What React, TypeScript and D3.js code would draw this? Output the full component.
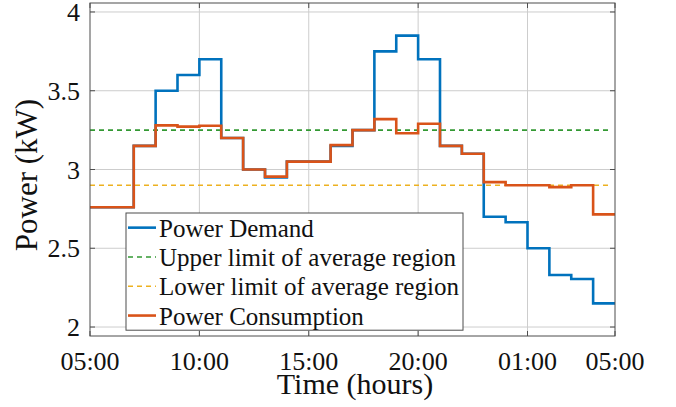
import * as d3 from 'd3';
import { useEffect, useRef } from 'react';

// hour of day at the start of each 1h step (25 = 01:00 next day)
const hours = [5, 6, 7, 8, 9, 10, 11, 12, 13, 14, 15, 16, 17, 18, 19, 20, 21, 22, 23, 24, 25, 26, 27, 28];
const demand = [2.76, 2.76, 3.15, 3.5, 3.6, 3.7, 3.2, 3.0, 2.95, 3.05, 3.05, 3.15, 3.25, 3.75, 3.85, 3.7, 3.15, 3.1, 2.7, 2.665, 2.5, 2.33, 2.305, 2.15];
const consumption = [2.76, 2.76, 3.15, 3.28, 3.272, 3.278, 3.2, 3.0, 2.955, 3.05, 3.05, 3.155, 3.25, 3.32, 3.23, 3.29, 3.15, 3.1, 2.92, 2.9, 2.9, 2.888, 2.9, 2.715];
const upperLimit = 3.25;
const lowerLimit = 2.9;
const xTicks = [5, 10, 15, 20, 25, 29];
const xTickLabels = ['05:00', '10:00', '15:00', '20:00', '01:00', '05:00'];
const yTicks = [2, 2.5, 3, 3.5, 4];
const legendItems = [
  { label: 'Power Demand', color: '#0072BD', dash: null },
  { label: 'Upper limit of average region', color: '#339933', dash: '5,4' },
  { label: 'Lower limit of average region', color: '#EDB120', dash: '5,4' },
  { label: 'Power Consumption', color: '#D95319', dash: null },
];

const App = () => {
  const svgRef = useRef(null);

  useEffect(() => {
    const svg = d3.select(svgRef.current);
    svg.selectAll('*').remove();
    const font = '"Liberation Serif", "Times New Roman", serif';
    const left = 90, right = 615, top = 3, bottom = 336;

    const x = d3.scaleLinear().domain([5, 29]).range([left, right]);
    const y = d3.scaleLinear().domain([1.943, 4.057]).range([bottom, top]);

    // grid
    const grid = svg.append('g');
    xTicks.slice(1, -1).forEach(t => {
      grid.append('line').attr('x1', x(t)).attr('x2', x(t)).attr('y1', top).attr('y2', bottom)
        .attr('stroke', '#cdcdcd').attr('stroke-width', 1);
    });
    yTicks.forEach(t => {
      grid.append('line').attr('x1', left).attr('x2', right).attr('y1', y(t)).attr('y2', y(t))
        .attr('stroke', '#cdcdcd').attr('stroke-width', 1);
    });

    const stepLine = d3.line<[number, number]>()
      .x(d => x(d[0]))
      .y(d => y(d[1]))
      .curve(d3.curveStepAfter);

    const toPoints = (vals: number[]): [number, number][] => {
      const pts = hours.map((h, i) => [h, vals[i]] as [number, number]);
      pts.push([hours[hours.length - 1] + 1, vals[vals.length - 1]]);
      return pts;
    };

    svg.append('path')
      .attr('d', stepLine(toPoints(demand)))
      .attr('fill', 'none').attr('stroke', '#0072BD').attr('stroke-width', 2.6);

    [[upperLimit, '#339933'], [lowerLimit, '#EDB120']].forEach(([v, c]) => {
      svg.append('line')
        .attr('x1', x(5)).attr('x2', x(29) - 4)
        .attr('y1', y(v as number)).attr('y2', y(v as number))
        .attr('stroke', c as string).attr('stroke-width', 1.6)
        .attr('stroke-dasharray', '5,4');
    });

    svg.append('path')
      .attr('d', stepLine(toPoints(consumption)))
      .attr('fill', 'none').attr('stroke', '#D95319').attr('stroke-width', 2.6);

    // axes box + ticks
    const axisColor = '#4d4d4d';
    svg.append('rect')
      .attr('x', left).attr('y', top).attr('width', right - left).attr('height', bottom - top)
      .attr('fill', 'none').attr('stroke', axisColor).attr('stroke-width', 1);

    yTicks.forEach(t => {
      svg.append('line').attr('x1', left).attr('x2', left + 5).attr('y1', y(t)).attr('y2', y(t)).attr('stroke', axisColor);
      svg.append('line').attr('x1', right - 5).attr('x2', right).attr('y1', y(t)).attr('y2', y(t)).attr('stroke', axisColor);
      svg.append('text')
        .attr('x', left - 10).attr('y', y(t) + 9)
        .attr('text-anchor', 'end')
        .style('font-family', font).style('font-size', '26px').style('fill', '#111')
        .text(String(t));
    });

    xTicks.forEach((t, i) => {
      svg.append('line').attr('x1', x(t)).attr('x2', x(t)).attr('y1', bottom).attr('y2', bottom - 5).attr('stroke', axisColor);
      svg.append('line').attr('x1', x(t)).attr('x2', x(t)).attr('y1', top).attr('y2', top + 5).attr('stroke', axisColor);
      svg.append('text')
        .attr('x', x(t)).attr('y', 370)
        .attr('text-anchor', 'middle')
        .style('font-family', font).style('font-size', '26px').style('fill', '#111')
        .text(xTickLabels[i]);
    });

    svg.append('text')
      .attr('x', 355).attr('y', 394)
      .attr('text-anchor', 'middle')
      .style('font-family', font).style('font-size', '30px').style('fill', '#111')
      .text('Time (hours)');

    svg.append('text')
      .attr('transform', 'translate(37,175) rotate(-90)')
      .attr('text-anchor', 'middle')
      .style('font-family', font).style('font-size', '31px').style('fill', '#111')
      .text('Power (kW)');

    // legend
    const lg = svg.append('g');
    const lx = 126, ly = 213, lw = 337, rowH = 29.3;
    lg.append('rect')
      .attr('x', lx).attr('y', ly).attr('width', lw).attr('height', rowH * legendItems.length)
      .attr('fill', '#fff').attr('stroke', axisColor).attr('stroke-width', 1);
    legendItems.forEach((item, i) => {
      const cy = ly + rowH * (i + 0.5);
      lg.append('line')
        .attr('x1', lx + 2).attr('x2', lx + 30).attr('y1', cy).attr('y2', cy)
        .attr('stroke', item.color).attr('stroke-width', item.dash ? 1.6 : 2.6)
        .attr('stroke-dasharray', item.dash);
      lg.append('text')
        .attr('x', lx + 33).attr('y', cy + 9)
        .style('font-family', font).style('font-size', '25px').style('fill', '#111')
        .text(item.label);
    });
  }, []);

  return (
    <svg ref={svgRef} width={676} height={407}
      style={{ position: 'absolute', left: 0, top: 0, background: '#fff' }} />
  );
};

export default App;
